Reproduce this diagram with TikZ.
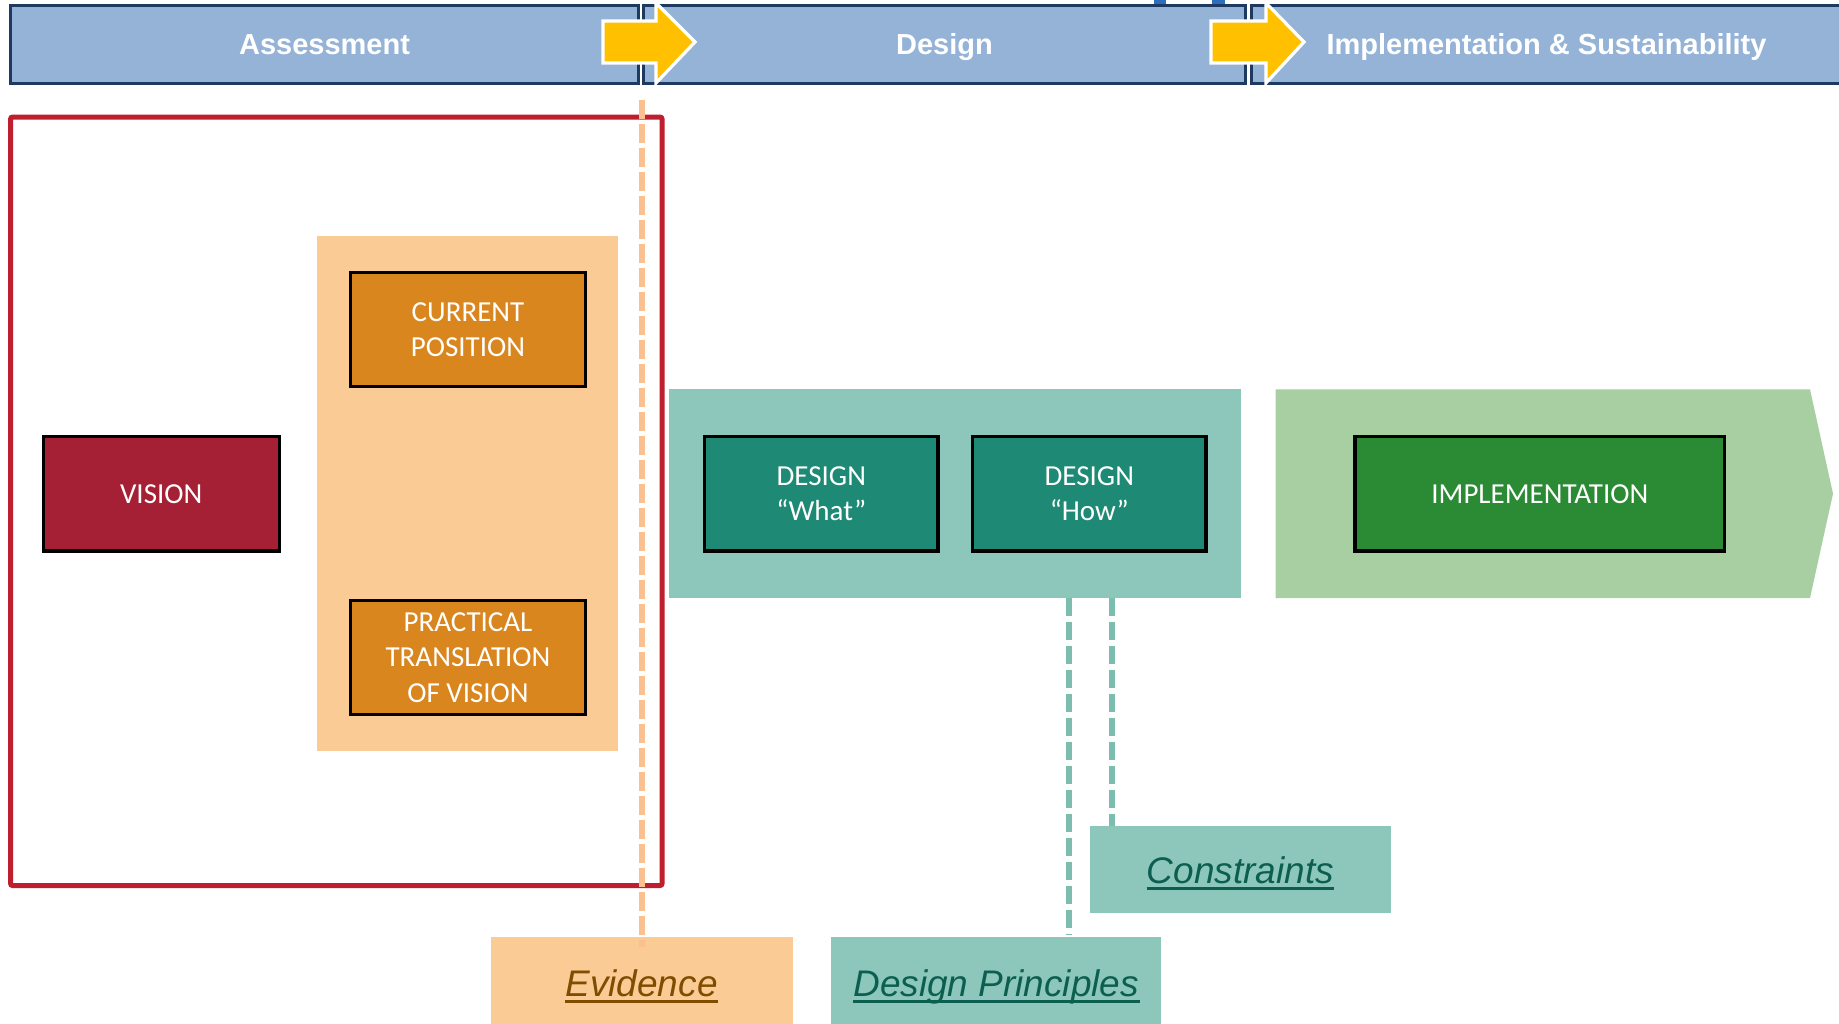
\documentclass[tikz,border=0pt]{standalone}
\usepackage{fontspec}
\setmainfont{Carlito}
\newfontfamily\arialf{Liberation Sans}
\definecolor{barfill}{HTML}{95B3D7}
\definecolor{barline}{HTML}{1F3A60}
\definecolor{arrowy}{HTML}{FFC000}
\definecolor{tabblue}{HTML}{2F6EBA}
\definecolor{redline}{HTML}{BE1E2D}
\definecolor{orangebg}{HTML}{FBCB96}
\definecolor{orangebox}{HTML}{D9861E}
\definecolor{visionfill}{HTML}{A52035}
\definecolor{tealbg}{HTML}{8DC7BB}
\definecolor{tealbox}{HTML}{1E8A75}
\definecolor{greenbg}{HTML}{A7CFA2}
\definecolor{greenbox}{HTML}{2B8A34}
\definecolor{evtext}{HTML}{7F4C00}
\definecolor{tealtext}{HTML}{0C5F50}
\definecolor{odash}{HTML}{FAC08F}
\definecolor{tdash}{HTML}{7DBDAF}
\begin{document}
\begin{tikzpicture}[x=0.5pt,y=-0.5pt,
  bar/.style={draw=barline, line width=1.5pt, fill=barfill, inner sep=0pt,
    text=white, font=\arialf\bfseries\fontsize{14.5}{17}\selectfont,
    text height=10.4pt, text depth=0pt, minimum height=39pt},
  yarrow/.style={fill=arrowy, draw=white, line width=1.6pt, line join=miter},
  bx/.style={draw=black, line width=1.6pt, text=white, align=center,
    font=\fontsize{14.5}{17.7}\selectfont, inner sep=0pt,
    minimum height=57.2pt},
  bg/.style={draw=none, inner sep=0pt},
  lbl/.style={font=\arialf\itshape\fontsize{18.5}{22}\selectfont, inner sep=0pt},
  uline/.style={line width=1.5pt},
  tline/.style={tdash, line width=3pt, dash pattern=on 9pt off 3pt}
]
\useasboundingbox (0,0) rectangle (1839,1023);
% small blue tabs behind the top bar
\fill[tabblue] (1154,-2) rectangle (1166,10);
\fill[tabblue] (1212,-2) rectangle (1225,10);
% phase bars
\node[bar, minimum width=313.95pt] (assess) at (324.5,44) {Assessment};
\node[bar, minimum width=300.65pt] (design) at (944.4,44) {Design};
\node[bar, minimum width=295.5pt] (impl) at (1546.5,44) {Implementation \& Sustainability};
% yellow arrows
\draw[yarrow] (603,21) -- (656,21) -- (656,3) -- (695,42) -- (656,83) -- (656,63) -- (603,63) -- cycle;
\draw[yarrow] (1211,21) -- (1266,21) -- (1266,3) -- (1304,42) -- (1266,83) -- (1266,63) -- (1211,63) -- cycle;
% assessment frame
\draw[redline, line width=2.5pt, rounded corners=1pt] (10.6,117) rectangle (662,885.5);
% background regions
\node[bg, fill=orangebg, minimum width=150.65pt, minimum height=257.45pt] (obg) at (467.4,493.2) {};
\node[bg, fill=tealbg, minimum width=286.25pt, minimum height=104.3pt] (tbg) at (954.75,493.7) {};
\fill[greenbg] (1275.6,389.4) -- (1810,389.4) -- (1833,493.7) -- (1810,598) -- (1275.6,598) -- cycle;
% boxes
\node[bx, fill=visionfill, minimum width=117.9pt] (vision) at (161.2,493.8) {VISION};
\node[bx, fill=orangebox, minimum width=117.5pt] (current) at (468,329.5) {CURRENT\\POSITION};
\node[bx, fill=orangebox, minimum width=117.5pt] (practical) at (468,657.6) {PRACTICAL\\TRANSLATION\\OF VISION};
\node[bx, fill=tealbox, minimum width=116.7pt] (what) at (821.3,493.8) {DESIGN\\“What”};
\node[bx, fill=tealbox, minimum width=116.7pt] (how) at (1089.3,493.8) {DESIGN\\“How”};
\node[bx, fill=greenbox, minimum width=184.8pt] (implbox) at (1539.8,493.8) {IMPLEMENTATION};
% bottom label boxes
\node[bg, fill=tealbg, minimum width=150.75pt, minimum height=43.6pt] (constr) at (1240.25,869.2) {};
\node[bg, fill=tealbg, minimum width=164.8pt, minimum height=46.35pt] (dprin) at (996.2,983.65) {};
\node[bg, fill=orangebg, minimum width=150.85pt, minimum height=46.35pt] (evid) at (641.65,983.65) {};
% dashed connectors
\coordinate (otop) at (641.5,100);
\coordinate (obot) at (641.5,947);
\draw[odash, line width=3pt, dash pattern=on 9.3pt off 2.7pt] (otop) -- (obot);
\coordinate (t1top) at (1068.5,598);
\coordinate (t1bot) at (1068.5,935);
\coordinate (t2top) at (1111.5,598);
\coordinate (t2bot) at (1111.5,825.6);
\draw[tline] (t1top) -- (t1bot);
\draw[tline] (t2top) -- (t2bot);
% labels
\node[lbl, text=evtext, anchor=base] (evt) at (641.5,996) {Evidence};
\draw[uline, evtext] ([yshift=-2.6pt]evt.base west) -- ([yshift=-2.6pt]evt.base east);
\node[lbl, text=tealtext, anchor=base] (dpt) at (996.2,996) {Design Principles};
\draw[uline, tealtext] ([yshift=-2.6pt]dpt.base west) -- ([yshift=-2.6pt]dpt.base east);
\node[lbl, text=tealtext, anchor=base] (cot) at (1240.5,883.3) {Constraints};
\draw[uline, tealtext] ([yshift=-2.6pt]cot.base west) -- ([yshift=-2.6pt]cot.base east);
\end{tikzpicture}
\end{document}
